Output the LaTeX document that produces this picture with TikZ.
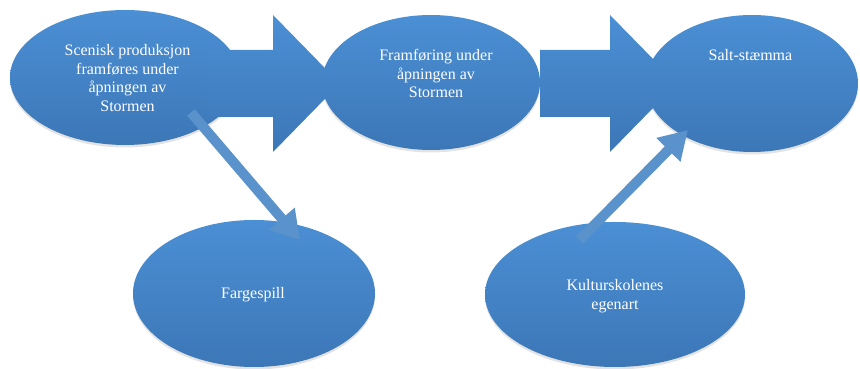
\documentclass[tikz,border=0pt]{standalone}
\usepackage{fontspec}
\setmainfont{Liberation Serif}
\usetikzlibrary{shapes.geometric,shadows,calc,arrows.meta}

\definecolor{bubbletop}{HTML}{4B8FD4}
\definecolor{bubblebot}{HTML}{3C77B7}
\definecolor{linkblue}{HTML}{5A92CC}

\tikzset{
  bubble/.style={ellipse, inner sep=0pt, top color=bubbletop, bottom color=bubblebot,
    draw=none, drop shadow={shadow xshift=0pt, shadow yshift=-2.5pt, opacity=0.22}},
  bubbletext/.style={text=white, align=center, inner sep=0pt,
    font=\fontsize{16}{18.5}\selectfont},
  bigarrow/.style={top color=bubbletop, bottom color=bubblebot, draw=none},
  thinarrow/.style={draw=linkblue, line width=10pt,
    -{Triangle[width=32pt,length=28pt]}}
}

% wide block arrow from tail coordinate #1 to tip coordinate #2
\newcommand\flowarrow[2]{%
  \path[bigarrow] ($(#1)+(0,33.5)$) -- ($(#2)+(-67,33.5)$) -- ($(#2)+(-67,68.5)$)
    -- (#2) -- ($(#2)+(-67,-68.5)$) -- ($(#2)+(-67,-33.5)$) -- ($(#1)+(0,-33.5)$) -- cycle;}

\begin{document}
\begin{tikzpicture}[x=1pt,y=1pt]
\useasboundingbox (0,0) rectangle (860,369);

% ellipses
\node[bubble, minimum width=230pt, minimum height=135pt] (e1) at (125,291.5) {};
\node[bubble, minimum width=218pt, minimum height=135pt] (e2) at (431,286.5) {};
\node[bubble, minimum width=212pt, minimum height=137pt] (e3) at (752,285.5) {};
\node[bubble, minimum width=242pt, minimum height=147pt] (e4) at (254,75.5) {};
\node[bubble, minimum width=260pt, minimum height=145pt] (e5) at (615,74.5) {};

% main flow arrows
\coordinate (a1s) at (207,285.5);
\coordinate (a1e) at (340,285.5);
\coordinate (a2s) at (540,285.5);
\coordinate (a2e) at (677,285.5);
\flowarrow{a1s}{a1e}
\flowarrow{a2s}{a2e}

% side links
\coordinate (l1s) at ($(e1.center)+(66,-35)$);
\coordinate (l1e) at ($(e4.center)+(46,53.5)$);
\coordinate (l2s) at ($(e5.center)+(-35.5,54.5)$);
\coordinate (l2e) at ($(e3.center)+(-64,-46.5)$);
\draw[thinarrow] (l1s) -- (l1e);
\draw[thinarrow] (l2s) -- (l2e);

% labels
\node[bubbletext] (t1) at (127.5,291) {Scenisk produksjon\\framføres under\\åpningen av\\Stormen};
\node[bubbletext] (t2) at (436,295.5) {Framføring under\\åpningen av\\Stormen};
\node[bubbletext] (t3) at (750.5,314) {Salt-stæmma};
\node[bubbletext] (t4) at (253,74) {Fargespill};
\node[bubbletext] (t5) at (615,73) {Kulturskolenes\\egenart};
\end{tikzpicture}
\end{document}
